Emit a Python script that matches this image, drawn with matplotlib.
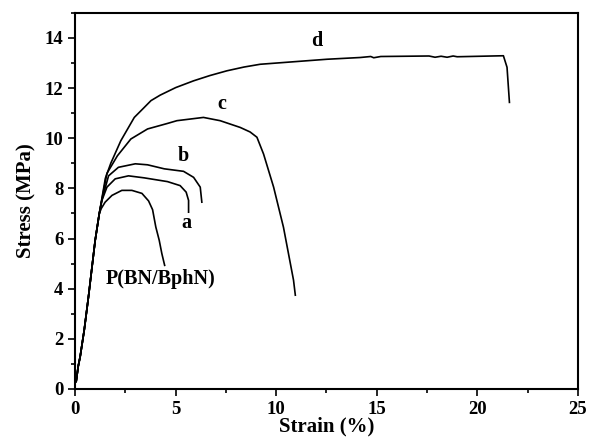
import matplotlib.pyplot as plt
from matplotlib.ticker import MultipleLocator

plt.rcParams['font.family'] = ['Liberation Serif', 'DejaVu Serif']
plt.rcParams['font.weight'] = 'bold'

# shared elastic part of every curve
rise_x = [0.05, 0.15, 0.25, 0.45, 0.66, 0.995, 1.2]
rise_y = [0.3, 0.9, 1.3, 2.35, 3.67, 5.93, 7.0]

# P(BN/BphN)
p_x = [1.3, 1.49, 1.83, 2.32, 2.82, 3.32, 3.65, 3.85, 4.01, 4.18, 4.31, 4.45]
p_y = [7.2, 7.45, 7.72, 7.92, 7.92, 7.8, 7.5, 7.15, 6.46, 5.93, 5.4, 4.93]

# a
a_x = [1.32, 1.58, 1.99, 2.65, 3.43, 4.59, 5.22, 5.52, 5.64, 5.64]
a_y = [7.5, 8.05, 8.38, 8.5, 8.42, 8.27, 8.11, 7.85, 7.52, 7.05]

# b
b_x = [1.35, 1.66, 2.15, 2.99, 3.6, 4.43, 5.39, 5.89, 6.22, 6.3]
b_y = [7.6, 8.5, 8.84, 8.98, 8.94, 8.78, 8.68, 8.44, 8.05, 7.45]

# c
c_x = [1.35, 1.58, 2.1, 2.77, 3.6, 4.59, 5.06, 6.38, 7.21, 8.21, 8.7, 9.04, 9.37, 9.87, 10.36, 10.86, 10.95]
c_y = [7.65, 8.6, 9.3, 9.97, 10.37, 10.59, 10.7, 10.83, 10.7, 10.43, 10.25, 10.04, 9.37, 8.05, 6.45, 4.34, 3.74]

# d
d_x = [1.35, 1.5, 1.77, 2.27, 2.94, 3.4, 3.77, 4.23, 5.0, 5.89, 6.7, 7.55, 8.4, 9.2, 10.86, 12.52, 14.18,
       14.7, 14.85, 15.2, 17.6, 17.9, 18.2, 18.5, 18.8, 19.0, 21.3, 21.48, 21.6]
d_y = [7.7, 8.4, 9.0, 9.9, 10.83, 11.2, 11.5, 11.72, 12.02, 12.29, 12.5, 12.69, 12.84, 12.95, 13.05, 13.15, 13.22,
       13.26, 13.21, 13.26, 13.28, 13.23, 13.27, 13.23, 13.28, 13.25, 13.29, 12.83, 11.43]

labels = ["P(BN/BphN)", "a", "b", "c", "d"]
label_x = [4.23, 5.52, 5.39, 7.3, 12.04]
label_y = [4.4, 6.6, 9.31, 11.36, 13.88]

fig = plt.figure(figsize=(5.92, 4.44), dpi=100)
ax = fig.add_axes([0.127, 0.124, 0.849, 0.847])

for xs, ys in [(p_x, p_y), (a_x, a_y), (b_x, b_y), (c_x, c_y), (d_x, d_y)]:
    ax.plot(rise_x + xs, rise_y + ys, color='black', lw=1.2)

for t, x, y in zip(labels, label_x, label_y):
    ax.text(x, y, t, ha='center', va='center', fontsize=14.5, fontweight='bold')

ax.set_xlim(0, 25)
ax.set_ylim(0, 15)
ax.xaxis.set_major_locator(MultipleLocator(5))
ax.xaxis.set_minor_locator(MultipleLocator(2.5))
ax.yaxis.set_major_locator(MultipleLocator(2))
ax.yaxis.set_minor_locator(MultipleLocator(1))
ax.set_yticks(range(0, 15, 2))
ax.tick_params(which='both', direction='out', labelsize=13.5, width=1.2)
ax.tick_params(which='major', length=5)
ax.tick_params(which='minor', length=3)
for s in ax.spines.values():
    s.set_linewidth(1.5)

ax.set_xlabel("Strain (%)", fontsize=15, fontweight='bold', labelpad=-1)
ax.set_ylabel("Stress (MPa)", fontsize=15, fontweight='bold', labelpad=6)

fig.savefig("out.png", dpi=100)
